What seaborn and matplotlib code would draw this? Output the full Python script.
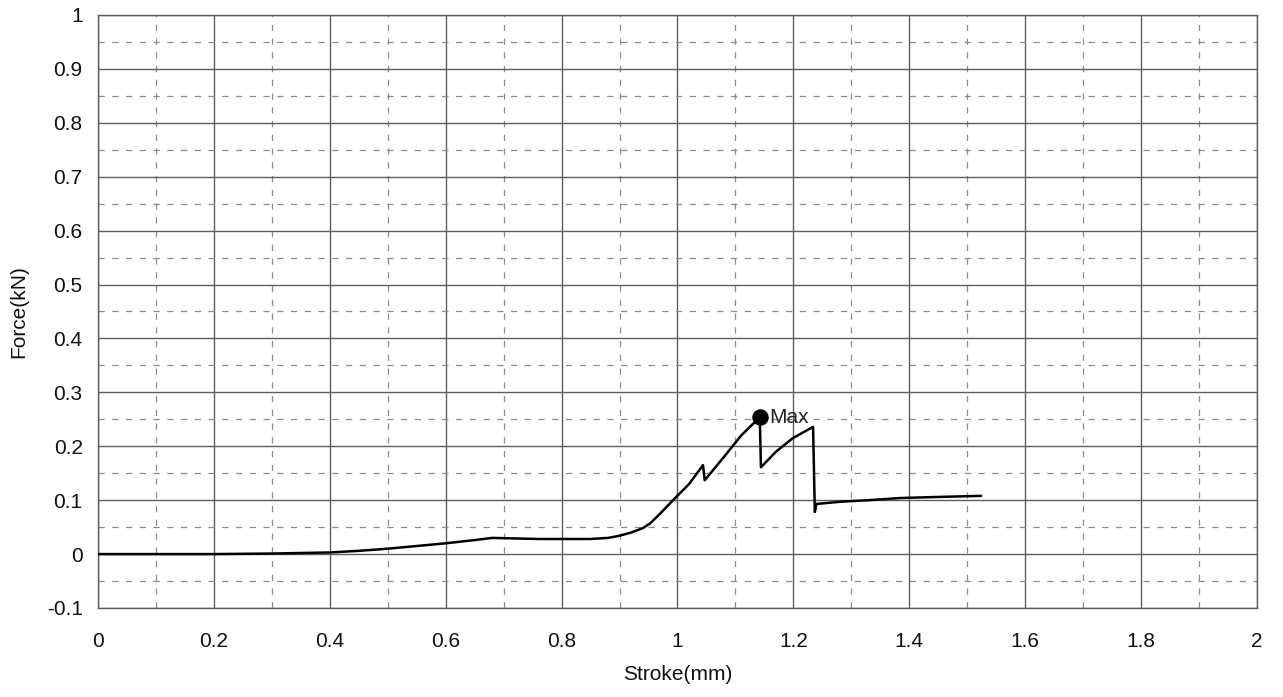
import numpy as np
import pandas as pd
import matplotlib
matplotlib.use("Agg")
import matplotlib.pyplot as plt
import seaborn as sns
from matplotlib.ticker import MultipleLocator, FuncFormatter

# Force-stroke curve
stroke = [0, 0.1, 0.2, 0.3, 0.35, 0.4, 0.45, 0.5, 0.55, 0.6, 0.65, 0.68,
          0.72, 0.76, 0.8, 0.85, 0.88, 0.9, 0.92, 0.94, 0.953, 0.97, 0.996,
          1.02, 1.044, 1.047, 1.08, 1.11, 1.142, 1.144, 1.17, 1.199, 1.234,
          1.237, 1.24, 1.28, 1.33, 1.384, 1.45, 1.524]
force = [0, 0, 0, 0.001, 0.002, 0.003, 0.006, 0.01, 0.015, 0.02, 0.026, 0.03,
         0.029, 0.028, 0.028, 0.028, 0.03, 0.034, 0.04, 0.048, 0.057, 0.075, 0.104,
         0.13, 0.165, 0.137, 0.18, 0.22, 0.254, 0.161, 0.19, 0.215, 0.236,
         0.078, 0.093, 0.097, 0.1, 0.104, 0.106, 0.108]

max_x = [1.142]
max_y = [0.254]
max_label = "Max"

df = pd.DataFrame({"stroke": stroke, "force": force})
df_max = pd.DataFrame({"stroke": max_x, "force": max_y})

sns.set_style("white")
plt.rcParams['font.family'] = ['Liberation Sans', 'DejaVu Sans']
plt.rcParams['text.color'] = 'black'
plt.rcParams['axes.labelcolor'] = 'black'
plt.rcParams['xtick.color'] = 'black'
plt.rcParams['ytick.color'] = 'black'

fig = plt.figure(figsize=(12.83, 6.97), dpi=100)
ax = fig.add_axes([0.0764, 0.1277, 0.9033, 0.8508])

sns.lineplot(data=df, x="stroke", y="force", color="black", linewidth=1.8,
             sort=False, ax=ax, zorder=5)
sns.scatterplot(data=df_max, x="stroke", y="force", color="black", s=120,
                edgecolor="black", ax=ax, zorder=6)
ax.text(max_x[0] + 0.016, max_y[0], max_label, fontsize=15, color="#222222",
        va="center", ha="left", zorder=7)

ax.set_xlim(0, 2)
ax.set_ylim(-0.1, 1)
ax.xaxis.set_major_locator(MultipleLocator(0.2))
ax.xaxis.set_minor_locator(MultipleLocator(0.1))
ax.yaxis.set_major_locator(MultipleLocator(0.1))
ax.yaxis.set_minor_locator(MultipleLocator(0.05))
fmt = FuncFormatter(lambda v, p: f"{round(v, 2):g}")
ax.xaxis.set_major_formatter(fmt)
ax.yaxis.set_major_formatter(fmt)

ax.grid(which="major", color="#5e5e5e", linewidth=1.0, linestyle="-")
ax.grid(which="minor", color="#8c8c8c", linewidth=0.9, linestyle=(0, (5, 6)))
ax.set_axisbelow(True)
ax.tick_params(which="both", length=0, labelsize=15, labelcolor="#111111")
ax.tick_params(axis="x", pad=17)
ax.tick_params(axis="y", pad=11)

for sp in ax.spines.values():
    sp.set_color("#5e5e5e")
    sp.set_linewidth(1.0)

ax.set_xlabel("Stroke(mm)", fontsize=15, color="#111111")
ax.set_ylabel("Force(kN)", fontsize=15, color="#111111")
ax.xaxis.set_label_coords(0.5, -0.096)
ax.yaxis.set_label_coords(-0.060, 0.5)

fig.savefig("out.png", dpi=100)
